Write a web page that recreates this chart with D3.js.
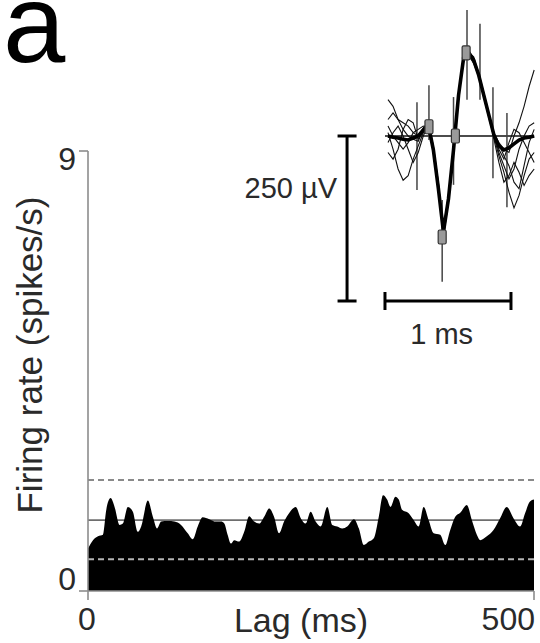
<!DOCTYPE html>
<meta charset="utf-8">
<title>Firing rate autocorrelogram with spike waveform</title>
<style>
  body {
    margin: 0;
    background: #fff;
  }

  text {
    font-family: "Liberation Sans", Arial, Helvetica, sans-serif;
    fill: #2a2a2a;
  }

  .axis-line {
    stroke: #8c8c8c;
    stroke-width: 1.6px;
    fill: none;
  }

  .trace {
    fill: none;
    stroke: #111;
    stroke-width: 1.1px;
  }

  .mean-trace {
    fill: none;
    stroke: #000;
    stroke-width: 3.6px;
  }

  .errbar {
    stroke: #444;
    stroke-width: 1.5px;
  }

  .scalebar {
    stroke: #000;
    stroke-width: 3px;
  }
</style>

<body>
  <script src="https://d3js.org/d3.v7.min.js"></script>
  <script>
    // firing rate histogram (lag in ms, rate in spikes/s)
    var lags = [0, 5.6, 11.2, 16.8, 20.5, 25.3, 29.8, 35.4, 39.1, 44.7, 50.3, 55.9, 59.6, 67.1, 72.7,
      77.5, 82.0, 89.4, 96.9, 104.3, 111.8, 117.4, 123.0, 128.5, 136.0, 143.4, 149.0, 152.8, 156.5,
      160.2, 163.9, 169.5, 175.1, 180.7, 186.3, 191.9, 197.5, 203.1, 208.6, 214.2, 219.8, 225.4,
      232.9, 238.5, 244.0, 249.6, 255.2, 260.8, 268.3, 273.8, 279.4, 285.0, 290.6, 298.1, 303.7,
      309.2, 314.8, 320.4, 326.0, 330.8, 335.3, 339.1, 344.6, 348.4, 352.1, 359.5, 365.1, 370.7,
      376.3, 381.9, 387.5, 394.9, 400.5, 406.1, 411.7, 417.3, 424.7, 430.3, 435.9, 439.6, 447.1,
      454.6, 462.0, 469.5, 477.0, 484.4, 490.0, 495.5, 500
    ];
    var rates = [0.87, 1.04, 1.12, 1.15, 1.66, 1.90, 1.72, 1.35, 1.38, 1.72, 1.62, 1.21, 1.32, 1.85, 1.52,
      1.28, 1.42, 1.43, 1.42, 1.35, 1.18, 1.06, 1.32, 1.51, 1.47, 1.42, 1.42, 1.38, 1.15,
      0.97, 1.04, 1.01, 1.21, 1.53, 1.42, 1.38, 1.52, 1.69, 1.52, 1.18, 1.42, 1.59,
      1.72, 1.49, 1.38, 1.62, 1.42, 1.32, 1.72, 1.35, 1.32, 1.28, 1.32, 1.47, 1.28,
      0.94, 1.01, 1.08, 1.52, 1.96, 1.87, 1.72, 1.93, 1.87, 1.66, 1.59, 1.45, 1.32,
      1.72, 1.45, 1.18, 1.15, 0.94, 1.25, 1.52, 1.60, 1.76, 1.45, 1.15, 1.04, 1.12,
      1.25, 1.49, 1.72, 1.49, 1.32, 1.59, 1.83, 1.87
    ];
    var meanRate = 1.45;
    var lowerBound = 0.65;
    var upperBound = 2.27;
    var yTicks = [0, 9];
    var xTicks = [0, 500];

    // spike waveforms (time in ms, voltage in µV)
    var waveTimes = [0, 0.04, 0.08, 0.12, 0.16, 0.2, 0.24, 0.28, 0.32, 0.36, 0.4, 0.44, 0.48, 0.52, 0.56,
      0.6, 0.64, 0.68, 0.72, 0.76, 0.8, 0.84, 0.88, 0.92, 0.96, 1.0, 1.04, 1.08, 1.12, 1.16
    ];
    var wave1 = [55, 45, 25, 10, 0, -5, -8, 10, 20, -18, -78, -140, -90, -25, 60, 115, 128, 118, 94, 60, 30, 5, -10, -20, -25, 0, 20, 45, 75, 100];
    var wave2 = [5, -20, -50, -67, -60, -35, -15, 5, 15, -25, -82, -150, -100, -28, 58, 120, 122, 110, 90, 64, 34, 0, -30, -55, -85, -109, -90, -60, -35, -25];
    var wave3 = [25, 35, 25, 20, 15, 5, 0, 12, 22, -15, -70, -148, -92, -18, 66, 114, 130, 117, 96, 66, 35, -4, -40, -70, -60, -40, -55, -75, -60, -50];
    var wave4 = [-10, 5, 15, 0, -20, -40, -25, 0, 18, -22, -76, -155, -98, -22, 60, 122, 124, 113, 90, 58, 28, -2, -20, -35, -10, 10, 5, -10, -25, -40];
    var wave5 = [15, 0, -10, -20, -10, 5, 10, 15, 12, -20, -72, -142, -95, -20, 64, 116, 127, 120, 93, 63, 30, 6, -25, -45, -65, -50, -20, 0, 15, 20];
    var wave6 = [-25, -35, -20, 10, 25, 20, -5, 6, 16, -24, -80, -145, -88, -16, 62, 118, 125, 116, 92, 61, 33, 3, -12, -30, -45, -70, -80, -45, -10, 10];
    var waveMean = [0, -2, -3, -5, -6, -3, 0, 9, 17, -21, -80, -145, -95, -21, 62, 118, 126, 115, 92, 62, 32, 2, -15, -21, -18, -12, -6, -3, -2, 0];

    var errTimes = [0.23, 0.325, 0.43, 0.52, 0.627, 0.73, 0.833, 0.944];
    var errLow = [-82, -6, -221, -74, 55, 55, -64, -108];
    var errHigh = [51, 77, -97, 59, 191, 170, 74, 35];
    var markTimes = [0.325, 0.43, 0.535, 0.62];
    var markValues = [14, -153, 0, 126];

    var width = 540,
      height = 643;

    var svg = d3.select("body").append("svg")
      .attr("width", width)
      .attr("height", height);

    // ---- main histogram ----
    var x = d3.scaleLinear().domain([0, 500]).range([88, 534]);
    var y = d3.scaleLinear().domain([0, 9]).range([591, 151]);

    var hist = lags.map(function(d, i) {
      return { lag: d, rate: rates[i] };
    });

    // mean line sits behind the fill
    svg.append("line")
      .attr("x1", x(0)).attr("x2", x(500))
      .attr("y1", y(meanRate)).attr("y2", y(meanRate))
      .attr("stroke", "#6e6e6e")
      .attr("stroke-width", 1.6);

    var area = d3.area()
      .curve(d3.curveMonotoneX)
      .x(function(d) { return x(d.lag); })
      .y0(y(0))
      .y1(function(d) { return y(d.rate); });

    svg.append("path")
      .datum(hist)
      .attr("d", area)
      .attr("fill", "#000");

    svg.append("line")
      .attr("x1", x(0)).attr("x2", x(500))
      .attr("y1", y(upperBound)).attr("y2", y(upperBound))
      .attr("stroke", "#8a8a8a")
      .attr("stroke-width", 2)
      .attr("stroke-dasharray", "6,4");

    svg.append("line")
      .attr("x1", x(0)).attr("x2", x(500))
      .attr("y1", y(lowerBound)).attr("y2", y(lowerBound))
      .attr("stroke", "#b4b4b4")
      .attr("stroke-width", 2)
      .attr("stroke-dasharray", "6,4");

    // axes
    svg.append("line").attr("class", "axis-line")
      .attr("x1", x(0)).attr("x2", x(0))
      .attr("y1", y(9)).attr("y2", y(0));
    svg.append("line").attr("class", "axis-line")
      .attr("x1", x(0)).attr("x2", x(500))
      .attr("y1", y(0)).attr("y2", y(0));

    svg.selectAll(".ytick")
      .data(yTicks)
      .enter().append("line")
      .attr("class", "axis-line")
      .attr("x1", x(0) - 9).attr("x2", x(0))
      .attr("y1", function(d) { return y(d); })
      .attr("y2", function(d) { return y(d); });

    svg.selectAll(".xtick")
      .data(xTicks)
      .enter().append("line")
      .attr("class", "axis-line")
      .attr("x1", function(d) { return x(d); })
      .attr("x2", function(d) { return x(d); })
      .attr("y1", y(0)).attr("y2", y(0) + 9);

    svg.selectAll(".ylabel")
      .data(yTicks)
      .enter().append("text")
      .attr("x", x(0) - 12)
      .attr("y", function(d) { return d == 9 ? y(d) + 19 : y(d) - 1; })
      .attr("text-anchor", "end")
      .style("font-size", "32px")
      .text(function(d) { return d; });

    svg.selectAll(".xlabel")
      .data(xTicks)
      .enter().append("text")
      .attr("x", function(d) { return d == 0 ? x(d) - 1 : x(d) + 1; })
      .attr("y", 630)
      .attr("text-anchor", function(d) { return d == 0 ? "middle" : "end"; })
      .style("font-size", "32px")
      .text(function(d) { return d; });

    svg.append("text")
      .attr("x", 301)
      .attr("y", 632)
      .attr("text-anchor", "middle")
      .style("font-size", "34px")
      .text("Lag (ms)");

    svg.append("text")
      .attr("transform", "translate(42,355) rotate(-90)")
      .attr("text-anchor", "middle")
      .style("font-size", "35px")
      .text("Firing rate (spikes/s)");

    svg.append("text")
      .attr("x", 3)
      .attr("y", 62)
      .style("font-size", "112px")
      .style("fill", "#000")
      .text("a");

    // ---- waveform inset ----
    var wx = d3.scaleLinear().domain([0, 1]).range([388, 514]);
    var wy = d3.scaleLinear().domain([0, -250]).range([136, 301]);

    var waveLine = d3.line()
      .x(function(d, i) { return wx(waveTimes[i]); })
      .y(function(d) { return wy(d); });

    svg.append("line")
      .attr("x1", wx(-0.024)).attr("x2", wx(1.16))
      .attr("y1", wy(0)).attr("y2", wy(0))
      .attr("stroke", "#111")
      .attr("stroke-width", 1.5);

    svg.selectAll(".errbar")
      .data(errTimes)
      .enter().append("line")
      .attr("class", "errbar")
      .attr("x1", function(d) { return wx(d); })
      .attr("x2", function(d) { return wx(d); })
      .attr("y1", function(d, i) { return wy(errLow[i]); })
      .attr("y2", function(d, i) { return wy(errHigh[i]); });

    svg.selectAll(".trace")
      .data([wave1, wave2, wave3, wave4, wave5, wave6])
      .enter().append("path")
      .attr("class", "trace")
      .attr("d", waveLine);

    svg.append("path")
      .datum(waveMean)
      .attr("class", "mean-trace")
      .attr("d", waveLine);

    svg.selectAll(".mark")
      .data(markTimes)
      .enter().append("rect")
      .attr("x", function(d) { return wx(d) - 4; })
      .attr("y", function(d, i) { return wy(markValues[i]) - 7; })
      .attr("width", 8)
      .attr("height", 14)
      .attr("rx", 1.5)
      .attr("fill", "#9a9a9a")
      .attr("stroke", "#333")
      .attr("stroke-width", 1.2);

    // scale bars: 250 µV and 1 ms
    var vbx = wx(-0.325);
    svg.append("line").attr("class", "scalebar")
      .attr("x1", vbx).attr("x2", vbx)
      .attr("y1", wy(0)).attr("y2", wy(-250));
    svg.selectAll(".vcap")
      .data([0, -250])
      .enter().append("line")
      .attr("class", "scalebar")
      .attr("x1", vbx - 9.5).attr("x2", vbx + 9.5)
      .attr("y1", function(d) { return wy(d); })
      .attr("y2", function(d) { return wy(d); });

    svg.append("line").attr("class", "scalebar")
      .attr("x1", wx(-0.024)).attr("x2", wx(0.976))
      .attr("y1", wy(-250)).attr("y2", wy(-250));
    svg.selectAll(".hcap")
      .data([-0.024, 0.976])
      .enter().append("line")
      .attr("class", "scalebar")
      .attr("x1", function(d) { return wx(d); })
      .attr("x2", function(d) { return wx(d); })
      .attr("y1", wy(-250) - 9).attr("y2", wy(-250) + 9);

    svg.append("text")
      .attr("x", 337)
      .attr("y", 198)
      .attr("text-anchor", "end")
      .style("font-size", "29px")
      .text("250 µV");

    svg.append("text")
      .attr("x", wx(0.426))
      .attr("y", 344)
      .attr("text-anchor", "middle")
      .style("font-size", "29px")
      .text("1 ms");
  </script>

</body>

</html>
